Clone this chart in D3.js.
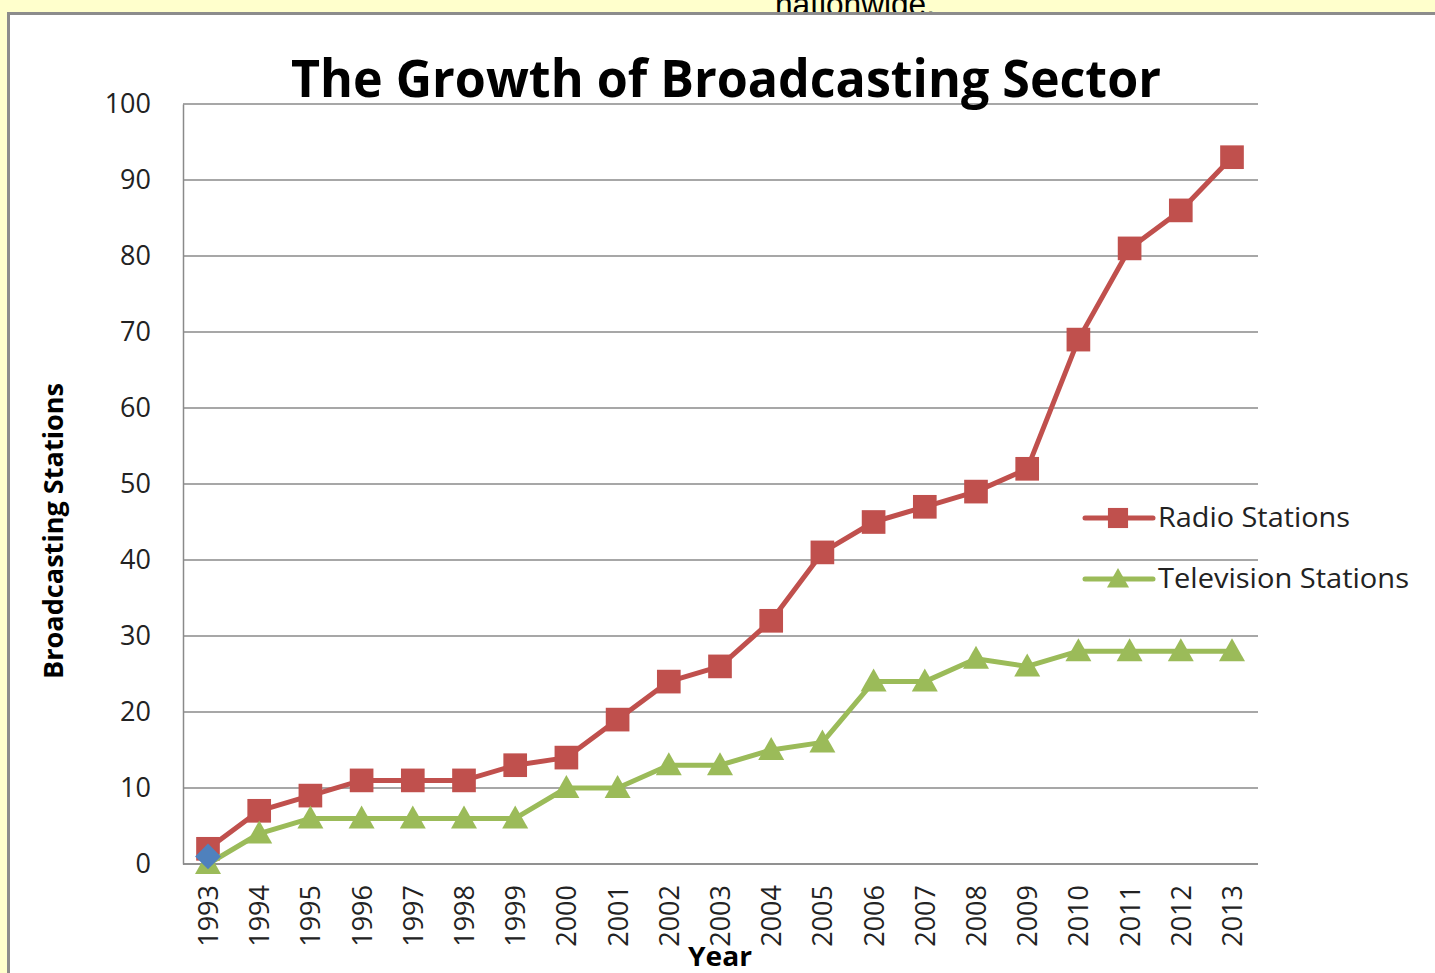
<!DOCTYPE html>
<html>
<head>
<meta charset="utf-8">
<script src="https://cdn.jsdelivr.net/npm/d3@7"></script>
<style>
  body { margin: 0; background: #ffffcc; overflow: hidden; }
  svg { display: block; }
</style>
</head>
<body>
<div id="chart"></div>
<script>
// data
const years = [1993, 1994, 1995, 1996, 1997, 1998, 1999, 2000, 2001, 2002, 2003,
               2004, 2005, 2006, 2007, 2008, 2009, 2010, 2011, 2012, 2013];
const radio = [2, 7, 9, 11, 11, 11, 13, 14, 19, 24, 26, 32, 41, 45, 47, 49, 52, 69, 81, 86, 93];
const television = [0, 4, 6, 6, 6, 6, 6, 10, 10, 13, 13, 15, 16, 24, 24, 27, 26, 28, 28, 28, 28];
const yearSeries = [1];   // lone blue point at 1993, not in the legend
const yTicks = [0, 10, 20, 30, 40, 50, 60, 70, 80, 90, 100];

const W = 1435, H = 973;
const font = "'Open Sans', 'Noto Sans', sans-serif";

const svg = d3.select("#chart").append("svg")
    .attr("width", W)
    .attr("height", H);

// bit of page text peeking above the chart box
svg.append("text")
    .attr("x", 775)
    .attr("y", 15)
    .attr("font-family", "'Liberation Sans', Arial, sans-serif")
    .attr("font-size", 31)
    .attr("fill", "#000")
    .text("nationwide.")
    .attr("textLength", 160)
    .attr("lengthAdjust", "spacingAndGlyphs");

// chart box
svg.append("rect")
    .attr("x", 8.5)
    .attr("y", 13.5)
    .attr("width", W)
    .attr("height", H)
    .attr("fill", "#fff")
    .attr("stroke", "#8c8c8c")
    .attr("stroke-width", 3);

const margin = {top: 104, left: 183, right: 1258, bottom: 864};

const x = d3.scalePoint()
    .domain(years)
    .range([208, 1232]);

const y = d3.scaleLinear()
    .domain([0, 100])
    .range([margin.bottom, margin.top]);

// gridlines
svg.append("g")
    .selectAll("line")
    .data(yTicks)
    .join("line")
    .attr("x1", margin.left)
    .attr("x2", margin.right)
    .attr("y1", d => y(d))
    .attr("y2", d => y(d))
    .attr("stroke", "#8a8a8a")
    .attr("stroke-width", 1.5);

// axes
const yAxis = svg.append("g")
    .attr("transform", "translate(" + margin.left + ",0)")
    .call(d3.axisLeft(y).tickValues(yTicks).tickSize(0).tickPadding(32));
yAxis.select(".domain").attr("stroke", "#8a8a8a").attr("stroke-width", 1.5);
yAxis.selectAll("text")
    .attr("font-family", font)
    .attr("font-size", 27)
    .attr("fill", "#222");

const xAxis = svg.append("g")
    .attr("transform", "translate(0," + margin.bottom + ")")
    .call(d3.axisBottom(x).tickSize(0).tickFormat(d => d));
xAxis.select(".domain")
    .attr("d", "M" + margin.left + ",0H" + margin.right)
    .attr("stroke", "#8a8a8a")
    .attr("stroke-width", 1.5);
xAxis.selectAll("text")
    .attr("font-family", font)
    .attr("font-size", 27)
    .attr("fill", "#222")
    .attr("transform", "rotate(-90)")
    .attr("text-anchor", "end")
    .attr("x", -21)
    .attr("y", 0)
    .attr("dy", "0.35em");

// titles
function fit(sel, w) {
    sel.attr("textLength", w).attr("lengthAdjust", "spacingAndGlyphs");
}

svg.append("text")
    .attr("x", 726)
    .attr("y", 97)
    .attr("text-anchor", "middle")
    .attr("font-family", font)
    .attr("font-weight", "bold")
    .attr("font-size", 52)
    .attr("fill", "#000")
    .text("The Growth of Broadcasting Sector")
    .call(fit, 870);

svg.append("text")
    .attr("transform", "translate(63,531) rotate(-90)")
    .attr("text-anchor", "middle")
    .attr("font-family", font)
    .attr("font-weight", "bold")
    .attr("font-size", 26)
    .attr("fill", "#000")
    .text("Broadcasting Stations")
    .call(fit, 296);

svg.append("text")
    .attr("x", 720)
    .attr("y", 966)
    .attr("text-anchor", "middle")
    .attr("font-family", font)
    .attr("font-weight", "bold")
    .attr("font-size", 26)
    .attr("fill", "#000")
    .text("Year")
    .call(fit, 64);

// Excel-like markers
const square = d3.symbol().type(d3.symbolSquare).size(560);
const diamond = d3.symbol().type(d3.symbolSquare).size(330);
const triangle = "M0,-13L13,10L-13,10Z";

const series = [
    {name: "Radio Stations", values: radio, color: "#c0504d", mark: square(), rot: 0, legend: true},
    {name: "Television Stations", values: television, color: "#9bbb59", mark: triangle, rot: 0, legend: true},
    {name: "Year", values: yearSeries, color: "#4f81bd", mark: diamond(), rot: 45, legend: false}
];

const line = d3.line()
    .x((d, i) => x(years[i]))
    .y(d => y(d));

series.forEach(s => {
    const g = svg.append("g");
    g.append("path")
        .datum(s.values)
        .attr("d", line)
        .attr("fill", "none")
        .attr("stroke", s.color)
        .attr("stroke-width", 5)
        .attr("stroke-linejoin", "round");
    g.selectAll("path.mark")
        .data(s.values)
        .join("path")
        .attr("class", "mark")
        .attr("transform", (d, i) => "translate(" + x(years[i]) + "," + y(d) + ") rotate(" + s.rot + ")")
        .attr("d", s.mark)
        .attr("fill", s.color);
});

// legend
const legend = svg.append("g")
    .attr("transform", "translate(1083,518)");

const items = legend.selectAll("g")
    .data(series.filter(s => s.legend))
    .join("g")
    .attr("transform", (d, i) => "translate(0," + i * 61 + ")");

items.append("line")
    .attr("x1", 2)
    .attr("x2", 70)
    .attr("stroke", d => d.color)
    .attr("stroke-width", 5)
    .attr("stroke-linecap", "round");

items.append("path")
    .attr("transform", "translate(35,0) scale(0.85)")
    .attr("d", d => d.mark)
    .attr("fill", d => d.color);

items.append("text")
    .attr("x", 75)
    .attr("y", 0)
    .attr("dy", "0.35em")
    .attr("font-family", font)
    .attr("font-size", 27)
    .attr("fill", "#222")
    .text(d => d.name)
    .each(function(d) {
        d3.select(this).call(fit, d.name === "Radio Stations" ? 192 : 251);
    });
</script>
</body>
</html>
